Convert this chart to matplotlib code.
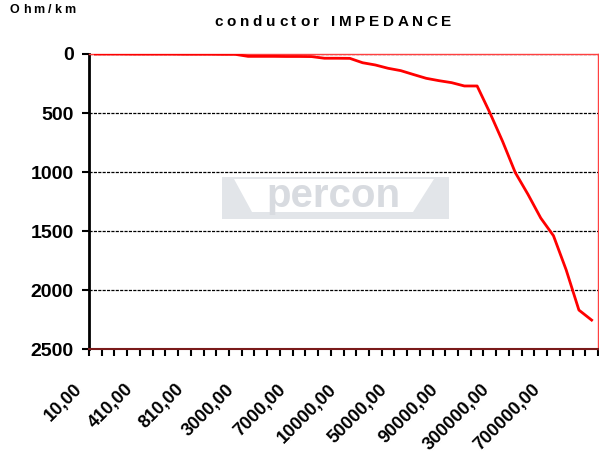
import matplotlib
matplotlib.use("Agg")
import matplotlib.pyplot as plt
from matplotlib.patches import Rectangle, Polygon
from matplotlib.transforms import ScaledTranslation
from matplotlib.font_manager import FontProperties

# frequencies (category axis) - only every 4th one is labelled
freqs = [10, 110, 210, 310, 410, 510, 610, 710, 810, 910,
         1000, 2000, 3000, 4000, 5000, 6000, 7000, 8000, 9000, 9500,
         10000, 20000, 30000, 40000, 50000, 60000, 70000, 80000, 90000, 100000,
         200000, 250000, 300000, 400000, 500000, 600000, 700000, 800000, 900000, 1000000]

# impedance in Ohm/km
impedance = [0, 0, 0, 1, 1, 1, 1, 2, 2, 2,
             3, 3, 20, 20, 20, 21, 21, 22, 36, 36,
             37, 74, 93, 121, 141, 174, 206, 226, 243, 271,
             271, 497, 740, 1005, 1190, 1390, 1540, 1830, 2170, 2255]

yticks = [0, 500, 1000, 1500, 2000, 2500]

W, H = 599, 461

def fmt(v):
    return f"{v},00"

plt.rcParams['font.family'] = ['Liberation Sans', 'DejaVu Sans']

fig = plt.figure(figsize=(W / 100, H / 100), dpi=100)
ax = fig.add_axes([89 / W, 1 - 349 / H, 509 / W, 295 / H])

x = list(range(len(freqs)))
ax.plot(x, impedance, color='#ff0000', lw=2, zorder=5)

ax.set_xlim(-0.5, len(freqs) - 0.5)
ax.set_ylim(2500, 0)

# y axis
ax.set_yticks(yticks)
ax.set_yticklabels([str(v) for v in yticks], fontsize=14, fontweight='bold')
ax.tick_params(axis='y', direction='out', length=5, width=1.5, color='black', pad=6)
for v in yticks[:-1]:
    ax.axhline(v, color='black', lw=0.9, ls=(0, (2.5, 1)), zorder=2)

# x axis: ticks between categories, labels every 4th category
ax.set_xticks([i - 0.5 for i in range(len(freqs) + 1)], minor=True)
ax.tick_params(axis='x', which='minor', direction='out', length=5, width=1.5, color='black')
lab_idx = list(range(0, len(freqs), 4))
ax.set_xticks(lab_idx)
ax.set_xticklabels([fmt(freqs[i]) for i in lab_idx], fontsize=13, fontweight='bold',
                   rotation=45, ha='right', va='center', rotation_mode='anchor')
ax.tick_params(axis='x', which='major', length=0, pad=0)
off = ScaledTranslation(-16 / 100, -38 / 100, fig.dpi_scale_trans)
for lab in ax.get_xticklabels():
    lab.set_transform(lab.get_transform() + off)

ax.spines['left'].set_color('black')
ax.spines['left'].set_linewidth(2)
ax.spines['bottom'].set_color('#7a1a1a')
ax.spines['bottom'].set_linewidth(1.5)
ax.spines['right'].set_color('#ff4040')
ax.spines['right'].set_linewidth(1)
ax.spines['top'].set_color('#ff4040')
ax.spines['top'].set_linewidth(1)

# percon watermark
fig.patches.append(Rectangle((222 / W, 1 - 219 / H), 227 / W, 42 / H,
                             transform=fig.transFigure, facecolor='#e2e5e9',
                             edgecolor='none', zorder=1))
fig.patches.append(Polygon([(234 / W, 1 - 179 / H), (434 / W, 1 - 179 / H),
                            (413 / W, 1 - 212 / H), (252 / W, 1 - 212 / H)],
                           closed=True, transform=fig.transFigure, facecolor='white',
                           edgecolor='none', zorder=1))
fig.text(333 / W, 1 - 196 / H, "percon", fontsize=29, fontweight='bold',
         color='#d8dbe0', ha='center', va='center', zorder=1)


# letter-spaced text (the original uses expanded character spacing)
renderer = fig.canvas.get_renderer()

def text_w(s, fp):
    w, _, _ = renderer.get_text_width_height_descent(s + "l", fp, ismath=False)
    w0, _, _ = renderer.get_text_width_height_descent("l", fp, ismath=False)
    return w - w0

def spaced_text(s, x0, y, size, gap, align='left'):
    fp = FontProperties(family=['Liberation Sans', 'DejaVu Sans'], weight='bold', size=size)
    pos = [text_w(s[:i], fp) + gap * i for i in range(len(s))]
    total = text_w(s, fp) + gap * (len(s) - 1)
    if align == 'center':
        x0 = x0 - total / 2
    for ch, p in zip(s, pos):
        fig.text((x0 + p) / W, 1 - y / H, ch, fontproperties=fp,
                 ha='left', va='center')

spaced_text("conductor IMPEDANCE", 333, 22, 11, 3.7, align='center')
spaced_text("Ohm/km", 10, 10, 9, 3.0)

ax.set_zorder(3)
ax.patch.set_alpha(0)

fig.savefig("out.png", dpi=100)
